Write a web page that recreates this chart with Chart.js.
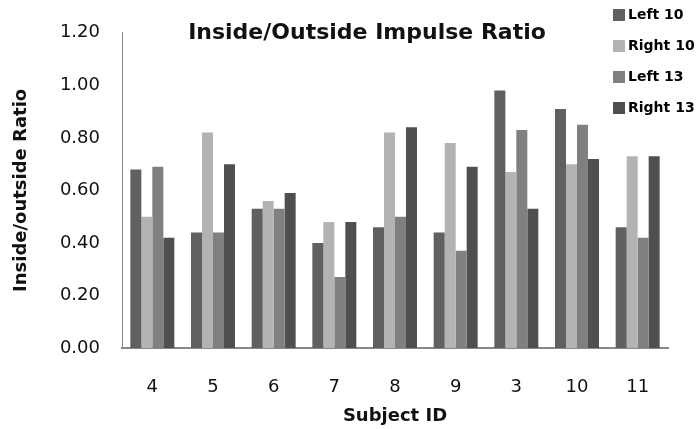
<!DOCTYPE html>
<html>
<head>
<meta charset="utf-8">
<script src="https://cdn.jsdelivr.net/npm/chart.js@4"></script>
<style>
  html, body { margin: 0; padding: 0; background: #fff; }
  #wrap { width: 699px; height: 429px; }
</style>
</head>
<body>
<div id="wrap"><canvas id="chart1" width="699" height="429"></canvas></div>
<script>
var subjects = ['4', '5', '6', '7', '8', '9', '3', '10', '11']
var left10 = [0.68, 0.44, 0.53, 0.40, 0.46, 0.44, 0.98, 0.91, 0.46]
var right10 = [0.50, 0.82, 0.56, 0.48, 0.82, 0.78, 0.67, 0.70, 0.73]
var left13 = [0.69, 0.44, 0.53, 0.27, 0.50, 0.37, 0.83, 0.85, 0.42]
var right13 = [0.42, 0.70, 0.59, 0.48, 0.84, 0.69, 0.53, 0.72, 0.73]
var yTicks = [0, 0.2, 0.4, 0.6, 0.8, 1.0, 1.2]

var font = '"DejaVu Sans", sans-serif'

// title and legend sit on top of the plot, so draw them by hand
var overlay = {
    id: 'overlay',
    afterDraw: function (chart) {
        var ctx = chart.ctx
        ctx.save()
        ctx.font = 'bold 22px ' + font
        ctx.fillStyle = '#111'
        ctx.textAlign = 'center'
        ctx.textBaseline = 'middle'
        ctx.fillText('Inside/Outside Impulse Ratio', 367, 33)

        ctx.font = 'bold 14px ' + font
        ctx.textAlign = 'left'
        chart.data.datasets.forEach(function (ds, i) {
            var y = 15 + i * 31
            ctx.fillStyle = ds.backgroundColor
            ctx.fillRect(613, y - 6, 12, 12)
            ctx.fillStyle = '#000'
            ctx.fillText(ds.label, 628, y)
        })
        ctx.restore()
    }
}

var ctx1 = document.getElementById('chart1')
const myChart = new Chart(ctx1, {
    type: 'bar',
    data: {
        labels: subjects,
        datasets: [
            { label: 'Left 10', data: left10, backgroundColor: '#606060' },
            { label: 'Right 10', data: right10, backgroundColor: '#b3b3b3' },
            { label: 'Left 13', data: left13, backgroundColor: '#808080' },
            { label: 'Right 13', data: right13, backgroundColor: '#4f4f4f' }
        ]
    },
    options: {
        responsive: false,
        animation: false,
        layout: { padding: { top: 32, right: 31, bottom: 0, left: 0 } },
        datasets: {
            bar: { categoryPercentage: 0.725, barPercentage: 1.0, borderWidth: 0 }
        },
        scales: {
            x: {
                grid: { display: false, drawTicks: false },
                border: { color: '#888', width: 2 },
                ticks: { color: '#111', padding: 29, font: { family: font, size: 18 } },
                title: {
                    display: true,
                    text: 'Subject ID',
                    color: '#111',
                    padding: { top: 0, bottom: 2 },
                    font: { family: font, size: 18, weight: 'bold' }
                },
                afterFit: function (s) { s.height = 81 }
            },
            y: {
                min: 0,
                max: 1.2,
                grid: { display: false, drawTicks: false },
                border: { color: '#888', width: 1 },
                afterBuildTicks: function (s) {
                    s.ticks = yTicks.map(function (v) { return { value: v } })
                },
                ticks: {
                    color: '#111',
                    padding: 22,
                    font: { family: font, size: 18 },
                    callback: function (v) { return Number(v).toFixed(2) }
                },
                title: {
                    display: true,
                    text: 'Inside/outside Ratio',
                    color: '#111',
                    padding: { top: 11, bottom: 0 },
                    font: { family: font, size: 18, weight: 'bold' }
                },
                afterFit: function (s) { s.width = 122 }
            }
        },
        plugins: {
            legend: { display: false },
            title: { display: false },
            tooltip: { enabled: false }
        }
    },
    plugins: [overlay]
});
</script>
</body>
</html>
